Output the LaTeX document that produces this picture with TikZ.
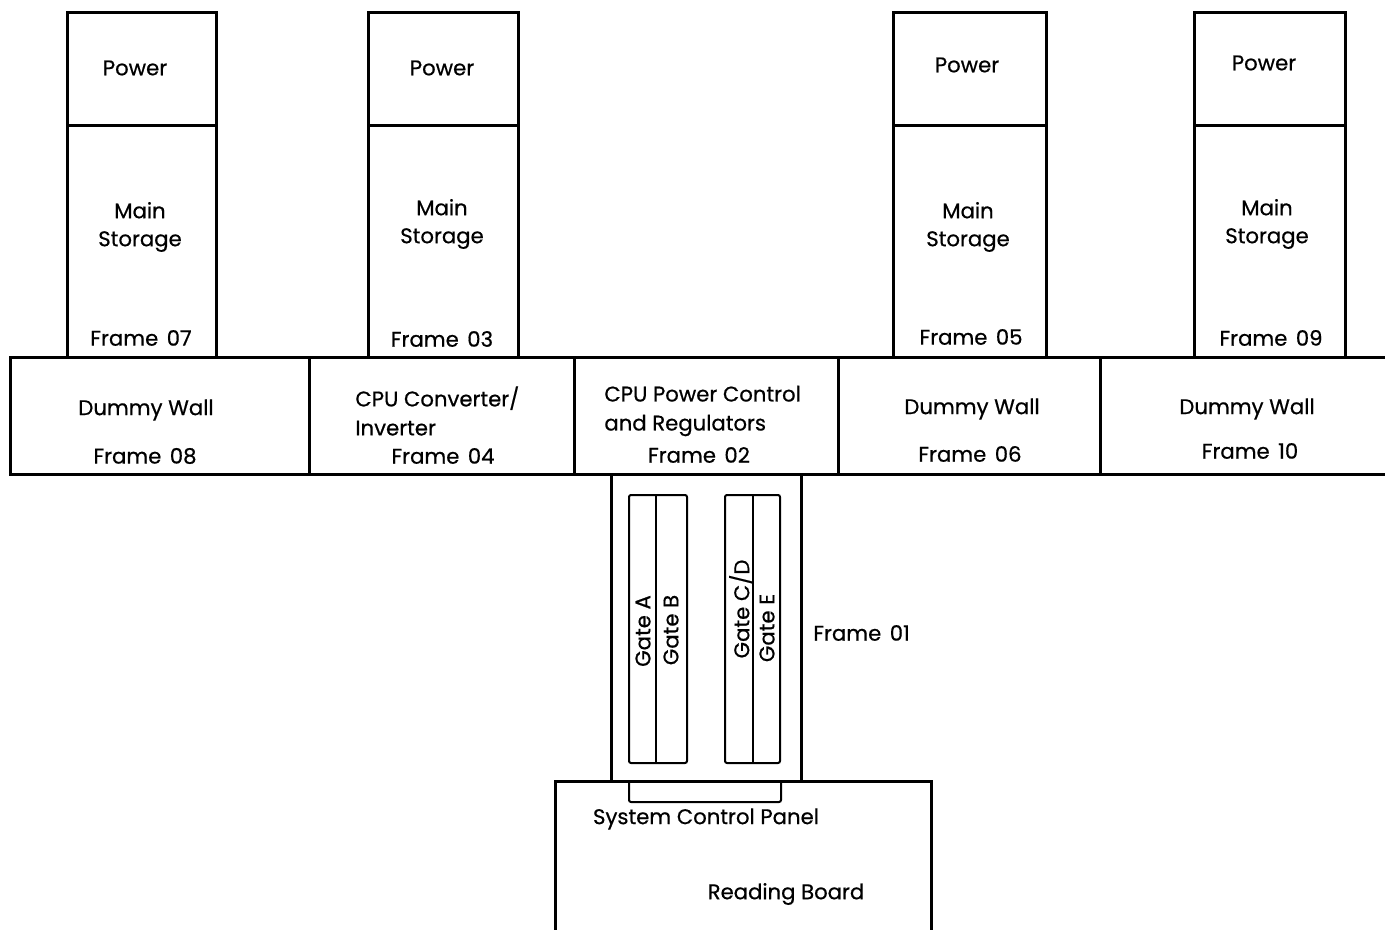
\documentclass[tikz,border=0pt]{standalone}
\usepackage{fontspec}
\setmainfont{Poppins}[FakeBold=0.6]
\newcommand\fr[1]{Frame\hspace{0.4em}#1}
\begin{document}
\begin{tikzpicture}[x=0.5pt,y=-0.5pt,
  wall/.style={draw=black,line width=1.5pt,line join=miter},
  thin/.style={draw=black,line width=1pt,rounded corners=1pt},
  lbl/.style={inner sep=0pt,font=\fontsize{10.6}{14}\selectfont,align=center},
  lbll/.style={inner sep=0pt,font=\fontsize{10.6}{14.5}\selectfont,align=left,anchor=west}]
\useasboundingbox (0,0) rectangle (1385,930);
% storage columns
\foreach \l/\r/\nm in {67/216/c7,368/518/c3,893/1046/c5,1194/1345/c9}{
  \draw[wall] (\l,357) -- (\l,13) -- (\r,13) -- (\r,357);
  \draw[wall] (\l,126) -- (\r,126);
}
% row of frames
\draw[wall] (1385,357) -- (10,357) -- (10,474) -- (1385,474);
\foreach \x in {309,574,838,1100}{\draw[wall] (\x,357) -- (\x,474);}
% frame 01
\draw[wall] (611,474) -- (611,781);
\draw[wall] (801,474) -- (801,781);
% reading board
\draw[wall] (555,935) -- (555,781) -- (931,781) -- (931,935);
% system control panel
\draw[thin] (629,781) -- (629,802) -- (781,802) -- (781,781);
% gates
\draw[thin] (629,495) rectangle (687,763);
\draw[thin] (656,495) -- (656,763);
\draw[thin] (725,495) rectangle (780,763);
\draw[thin] (753,495) -- (753,763);
% texts
\node[lbl] (p7) at (135,68) {Power};
\node[lbl] (p3) at (442,68) {Power};
\node[lbl] (p5) at (967,65) {Power};
\node[lbl] (p9) at (1264,63) {Power};
\node[lbl] (m7) at (140,227) {Main\\Storage};
\node[lbl] (m3) at (442,224) {Main\\Storage};
\node[lbl] (m5) at (968,227) {Main\\Storage};
\node[lbl] (m9) at (1267,224) {Main\\Storage};
\node[lbl] (f7) at (141,338) {\fr{07}};
\node[lbl] (f3) at (442,339) {\fr{03}};
\node[lbl] (f5) at (971,337) {\fr{05}};
\node[lbl] (f9) at (1271,338) {\fr{09}};
\node[lbl] (d8) at (146,410) {Dummy Wall};
\node[lbl] (f8) at (145,456) {\fr{08}};
\node[lbll] (cv) at (355,411) {CPU Converter/\\Inverter};
\node[lbl] (f4) at (443,456) {\fr{04}};
\node[lbll] (pc) at (604,411) {CPU Power Control\\and Regulators};
\node[lbl] (f2) at (699,455) {\fr{02}};
\node[lbl] (d6) at (972,409) {Dummy Wall};
\node[lbl] (f6) at (970,454) {\fr{06}};
\node[lbl] (d10) at (1247,409) {Dummy Wall};
\node[lbl] (f10) at (1250,451) {\fr{10}};
\node[lbl,rotate=90] (ga) at (643,631) {Gate A};
\node[lbl,rotate=90] (gb) at (671,630) {Gate B};
\node[lbl,rotate=90] (gc) at (741,609) {Gate C/D};
\node[lbl,rotate=90] (ge) at (767,628) {Gate E};
\node[lbl,anchor=west] (f1) at (813,633) {\fr{01}};
\node[lbl] (scp) at (706,819) {System Control Panel};
\node[lbl] (rb) at (786,894) {Reading Board};
\end{tikzpicture}
\end{document}
